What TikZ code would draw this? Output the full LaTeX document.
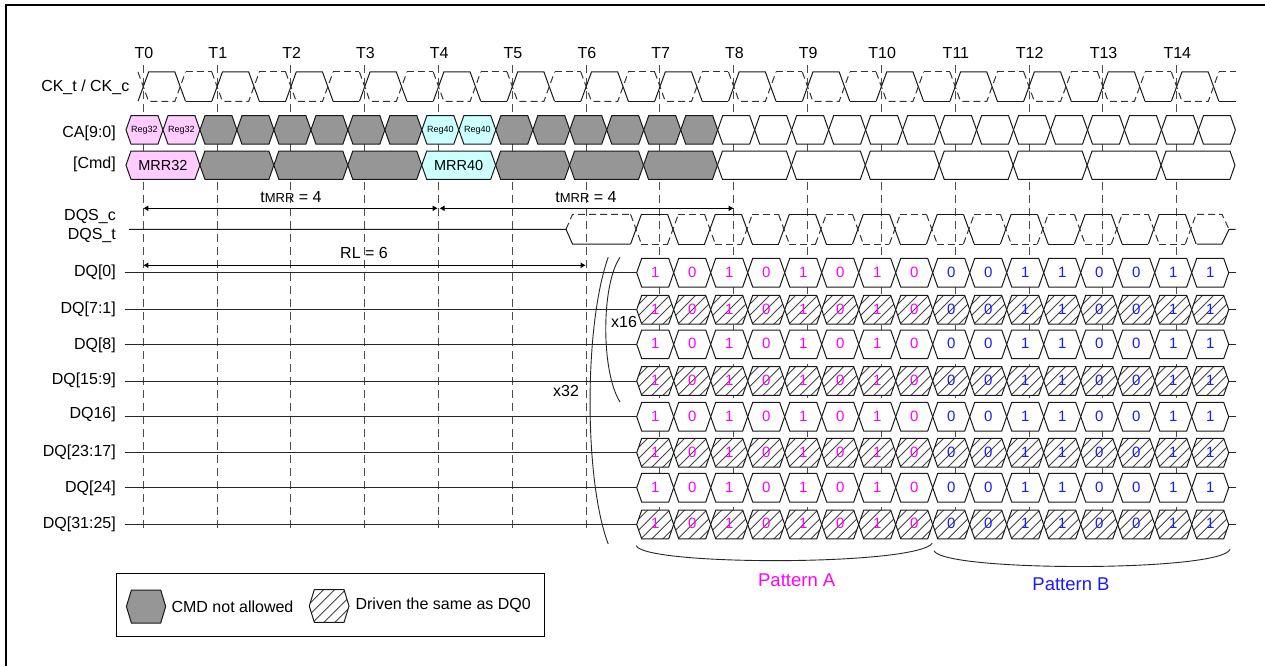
\documentclass[tikz,border=0pt]{standalone}
\usepackage{fontspec}
\setmainfont{Liberation Sans}
\usetikzlibrary{arrows.meta}
\newcommand{\fs}[1]{\fontsize{#1}{#1}\selectfont}
\definecolor{cmdgray}{HTML}{969696}
\definecolor{regpink}{HTML}{FFCCFF}
\definecolor{regcyan}{HTML}{CCFFFF}
\definecolor{hatchgray}{HTML}{444444}
\definecolor{patblue}{HTML}{1A1AFF}
\definecolor{patpink}{RGB}{255,0,255}
\tikzset{
  x=1pt,y=-1pt,
  lbl/.style={anchor=east,inner sep=0pt,font=\fs{16}},
  wave/.style={line width=1pt,black!90},
  dwave/.style={line width=1pt,black!80,dash pattern=on 7pt off 4pt},
  tline/.style={line width=1pt,black!70,dash pattern=on 8pt off 5pt},
  meas/.style={line width=0.9pt,{Latex[length=5pt,width=6pt]}-{Latex[length=5pt,width=6pt]}},
  plain/.style={line width=0.9pt,black!85},
  txt/.style={inner sep=0pt,font=\fs{16}},
  dig/.style={inner sep=0pt,font=\fs{15}},
}
% \hexa{left}{right}{ycentre}{halfheight}{fill}
\newcommand{\hexa}[5]{%
  \filldraw[wave,fill=#5] (#1,#3) -- ({#1+5},{#3-#4}) -- ({#2-5},{#3-#4}) -- (#2,#3) -- ({#2-5},{#3+#4}) -- ({#1+5},{#3+#4}) -- cycle;}
\newcommand{\hatchhexa}[4]{%
  \fill[white] (#1,#3) -- ({#1+5},{#3-#4}) -- ({#2-5},{#3-#4}) -- (#2,#3) -- ({#2-5},{#3+#4}) -- ({#1+5},{#3+#4}) -- cycle;
  \begin{scope}
  \clip (#1,#3) -- ({#1+5},{#3-#4}) -- ({#2-5},{#3-#4}) -- (#2,#3) -- ({#2-5},{#3+#4}) -- ({#1+5},{#3+#4}) -- cycle;
  \foreach \hk in {-4,...,4}{
    \draw[line width=0.9pt,hatchgray] ({(#1+#2)/2+\hk*11-20},{#3+20}) -- ({(#1+#2)/2+\hk*11+20},{#3-20});}
  \end{scope}
  \draw[wave] (#1,#3) -- ({#1+5},{#3-#4}) -- ({#2-5},{#3-#4}) -- (#2,#3) -- ({#2-5},{#3+#4}) -- ({#1+5},{#3+#4}) -- cycle;}
\begin{document}
\begin{tikzpicture}
\useasboundingbox (0,0) rectangle (1265,666);
\fill[white] (0,0) rectangle (1265,666);
\draw[line width=2pt,black] (5.8,666) -- (5.8,5) -- (1265,5);

% time lines and labels
\foreach \i in {0,...,14}{
  \pgfmathsetmacro{\tx}{143.3+\i*73.81}
  \coordinate (T\i) at (\tx,65);
  \coordinate (B\i) at (\tx,532);
  \node[inner sep=0pt,font=\fs{16}] (tl\i) at (\tx+0.7,52.7) {T\i};
  \draw[tline] (T\i) -- (B\i);
}

% clock
\foreach \i in {0,...,14}{
  \pgfmathsetmacro{\a}{143.3+\i*73.81}
  \pgfmathsetmacro{\b}{\a+36.9}
  \pgfmathsetmacro{\c}{\a+73.81}
  \draw[wave] ({\a-5.3},101.3) -- ({\a+5.3},72) -- ({\b-5.3},72) -- ({\b+5.3},101.3);
  \draw[dwave] ({\a-5.3},72) -- ({\a+5.3},101.3) -- ({\b-5.3},101.3) -- ({\b+5.3},72);
  \ifnum\i<14
    \draw[wave] ({\b+5.3},101.3) -- ({\c-5.3},101.3);
    \draw[dwave] ({\b+5.3},72) -- ({\c-5.3},72);
  \else
    \draw[wave] ({\b+5.3},101.3) -- (1236,101.3);
    \draw[dwave] ({\b+5.3},72) -- (1236,72);
  \fi
}

% CA row
\foreach \i in {0,...,29}{
  \pgfmathsetmacro{\l}{126+\i*36.98}
  \pgfmathsetmacro{\r}{\l+36.98}
  \pgfmathtruncatemacro{\cc}{\i<2 ? 1 : (\i<8 ? 2 : (\i<10 ? 3 : (\i<16 ? 2 : 0)))}
  \ifcase\cc \def\hc{white}\or \def\hc{regpink}\or \def\hc{cmdgray}\or \def\hc{regcyan}\fi
  \hexa{\l}{\r}{129.9}{14.2}{\hc}
  \ifnum\cc=1 \node[inner sep=0pt,font=\fs{9}] (regp\i) at ({(\l+\r)/2},130) {Reg32}; \fi
  \ifnum\cc=3 \node[inner sep=0pt,font=\fs{9}] (regc\i) at ({(\l+\r)/2},130) {Reg40}; \fi
}
% Cmd row
\foreach \i in {0,...,14}{
  \pgfmathsetmacro{\l}{126+\i*73.93}
  \pgfmathsetmacro{\r}{\l+73.93}
  \pgfmathtruncatemacro{\cc}{\i==0 ? 1 : (\i<4 ? 2 : (\i==4 ? 3 : (\i<8 ? 2 : 0)))}
  \ifcase\cc \def\hc{white}\or \def\hc{regpink}\or \def\hc{cmdgray}\or \def\hc{regcyan}\fi
  \hexa{\l}{\r}{165.2}{14.2}{\hc}
  \ifnum\cc=1 \node[inner sep=0pt,font=\fs{14.5}] (mrrp) at ({(\l+\r)/2},165.5) {MRR32}; \fi
  \ifnum\cc=3 \node[inner sep=0pt,font=\fs{14.5}] (mrrc) at ({(\l+\r)/2},165.5) {MRR40}; \fi
}

% left labels
\node[lbl] (lck) at (129.5,87) {CK\_t / CK\_c};
\node[lbl] (lca) at (116,133) {CA[9:0]};
\node[lbl] (lcmd) at (116,164) {[Cmd]};
\node[lbl] (ldqsc) at (116,217) {DQS\_c};
\node[lbl] (ldqst) at (116,236) {DQS\_t};

% DQS
\coordinate (dqsstart) at (129,229.3);
\coordinate (dqstip) at (566,229.3);
\draw[wave] (dqsstart) -- (dqstip) -- (572.5,244) -- (630.7,244);
\draw[dwave] (dqstip) -- (572.5,214.3) -- (630.7,214.3);
\foreach \k in {0,...,15}{
  \pgfmathsetmacro{\xc}{636+\k*36.98}
  \pgfmathsetmacro{\xn}{\xc+36.98}
  \ifodd\k
    \def\ya{214.3}\def\yb{244}
  \else
    \def\ya{244}\def\yb{214.3}
  \fi
  \draw[wave] ({\xc-5.4},\ya) -- ({\xc+5.4},\yb);
  \draw[dwave] ({\xc-5.4},\yb) -- ({\xc+5.4},\ya);
  \ifnum\k<15
    \draw[wave] ({\xc+5.4},\yb) -- ({\xn-5.4},\yb);
    \draw[dwave] ({\xc+5.4},\ya) -- ({\xn-5.4},\ya);
  \fi
}
\coordinate (dqsend) at (1229,229.3);
\coordinate (dqstail) at (1235.5,229.3);
\draw[wave] (1197,244) -- (1222,244) -- (dqsend) -- (dqstail);
\draw[dwave] (1197,214.3) -- (1222,214.3) -- (dqsend);

% DQ rows
\foreach \yy/\ly/\name/\hat/\idx in {272.7/272.7/DQ[0]/0/0,309.7/309/DQ[7:1]/1/1,344.3/345/DQ[8]/0/2,381/380/DQ[15:9]/1/3,416.7/414.3/DQ16]/0/4,452.7/452.7/DQ[23:17]/1/5,487.7/488/DQ[24]/0/6,524.5/524/DQ[31:25]/1/7}{
  \node[lbl] (dql\idx) at (116,\ly) {\name};
  \coordinate (dqa\idx) at (124.7,\yy);
  \coordinate (dqb\idx) at (636.7,\yy);
  \coordinate (dqc\idx) at (1228.7,\yy);
  \coordinate (dqd\idx) at (1235.5,\yy);
  \draw[plain] (dqa\idx) -- (dqb\idx);
  \draw[plain] (dqc\idx) -- (dqd\idx);
  \foreach \k/\bitv in {0/1,1/0,2/1,3/0,4/1,5/0,6/1,7/0,8/0,9/0,10/1,11/1,12/0,13/0,14/1,15/1}{
    \pgfmathsetmacro{\l}{636.7+\k*37}
    \pgfmathsetmacro{\r}{\l+37}
    \ifnum\hat=1
      \hatchhexa{\l}{\r}{\yy}{14.3}
    \else
      \hexa{\l}{\r}{\yy}{14.3}{white}
    \fi
    \ifnum\k<8 \def\dc{patpink}\else \def\dc{patblue}\fi
    \node[dig,text=\dc] (d\idx-\k) at ({(\l+\r)/2},{\yy-0.7}) {\bitv};
  }
}

% measures
\coordinate (mt0) at (143.3,208.3);
\coordinate (mt4a) at (437.6,208.3);
\coordinate (mt4b) at (439.6,208.3);
\coordinate (mt8) at (733.7,208.3);
\draw[meas] (mt0) -- (mt4a);
\draw[meas] (mt4b) -- (mt8);
\node[txt] (tm1) at (291,196.7) {t{\fs{13}MRR} = 4};
\node[txt] (tm2) at (586,196.7) {t{\fs{13}MRR} = 4};
\coordinate (rl0) at (143.3,265.3);
\coordinate (rl6) at (585.7,265.3);
\draw[meas] (rl0) -- (rl6);
\node[txt] (rl) at (364,253) {RL = 6};

% width brackets
\coordinate (x16a) at (620,257.3);
\coordinate (x16b) at (620,402);
\coordinate (x32a) at (608.2,257.3);
\coordinate (x32b) at (608.2,544);
\draw[plain] (x16a) .. controls (601,285) and (601,372) .. (x16b);
\draw[plain] (x32a) .. controls (584,325) and (584,480) .. (x32b);
\node[txt] (x16) at (624,322) {x16};
\node[txt] (x32) at (566,390.7) {x32};

% pattern braces
\coordinate (paa) at (636.2,545.7);
\coordinate (pab) at (932.3,543.3);
\coordinate (pba) at (934,550.7);
\coordinate (pbb) at (1230,549.3);
\draw[plain] (paa) .. controls (645,566) and (915,566) .. (pab);
\draw[plain] (pba) .. controls (943,572) and (1222,572) .. (pbb);
\node[inner sep=0pt,font=\fs{18.5},text=patpink] (pa) at (796.7,580) {Pattern A};
\node[inner sep=0pt,font=\fs{18.5},text=patblue] (pb) at (1071,584) {Pattern B};

% legend
\draw[line width=0.9pt] (116.4,573.6) rectangle (544.6,636.8);
\hexa{126.4}{165.7}{606.5}{16.5}{cmdgray}
\node[anchor=west,inner sep=0pt,font=\fs{16}] (lg1) at (171.4,606.4) {CMD not allowed};
\hatchhexa{309.3}{349}{606}{16.4}
\node[anchor=west,inner sep=0pt,font=\fs{16}] (lg2) at (355.4,605.5) {Driven the same as DQ0};
\end{tikzpicture}
\end{document}
